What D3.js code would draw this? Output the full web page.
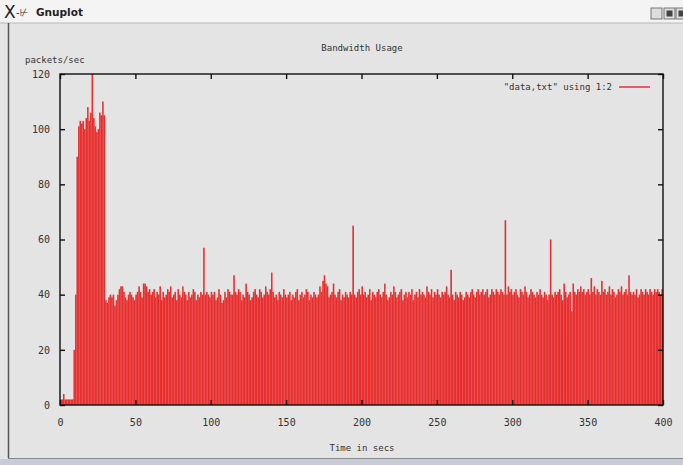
<!DOCTYPE html>
<html><head><meta charset="utf-8">
<script src="https://cdn.jsdelivr.net/npm/d3@7"></script>
<style>html,body{margin:0;padding:0;background:#e4e4e4;}svg{display:block;}</style>
</head><body>
<svg id="c" width="683" height="465"></svg>
<script>
const chartTitle = "Bandwidth Usage";
const yLabel = "packets/sec";
const xLabel = "Time in secs";
const legendLabel = "\"data,txt\" using 1:2";
const xTicks = [0,50,100,150,200,250,300,350,400];
const yTicks = [0,20,40,60,80,100,120];
// packets/sec for t = 0..400 seconds
const packets = [
2,2,4,2,2,2,2,2,2,20,
40,90,101,103,102,103,100,104,108,103,
106,120,104,101,99,100,106,105,110,105,
38,37,39,40,39,40,36,38,40,42,
43,43,41,39,38,40,41,40,39,38,
40,41,43,41,39,44,44,43,41,42,
40,41,42,39,41,40,43,38,41,39,
40,42,41,43,39,40,41,38,42,40,
39,43,41,40,38,41,39,40,42,41,
38,40,39,41,40,57,40,41,40,39,
41,40,41,38,39,42,40,37,38,41,
39,42,41,40,40,47,41,40,42,41,
38,40,39,44,41,40,38,39,41,42,
40,39,42,41,39,40,43,41,40,42,
48,41,39,40,38,41,40,39,42,40,
39,40,41,38,40,39,41,42,38,40,
41,39,40,42,41,38,40,39,41,40,
39,40,43,41,45,47,44,43,39,40,
41,44,40,39,41,42,38,40,39,41,
40,39,41,40,65,40,39,41,42,40,
43,40,41,39,40,42,38,41,40,39,
41,42,40,39,41,44,40,38,39,41,
40,43,41,39,40,41,42,38,40,41,
39,41,40,42,38,40,41,39,42,40,
41,40,39,43,41,40,42,39,41,40,
42,40,39,41,40,41,43,40,39,49,
40,38,41,40,39,41,40,38,39,41,
40,39,41,42,40,39,41,42,40,41,
42,40,41,42,39,40,42,41,40,42,
41,40,42,41,40,67,40,43,41,42,
40,41,42,40,39,42,41,40,43,41,
39,40,42,41,40,39,41,40,42,40,
39,41,40,38,40,60,40,39,41,40,
41,42,40,38,44,41,39,40,41,34,
44,41,40,42,41,43,41,42,40,41,
42,40,46,41,43,40,42,41,40,45,
41,42,40,41,43,40,42,41,39,40,
42,41,43,40,41,42,40,47,41,40,
41,40,42,39,40,42,41,40,42,41,
40,42,41,40,42,41,42,41,40,42,
40
];
const seconds = packets.map((_, i) => i);

const svg = d3.select("#c");
const font = "'DejaVu Sans Mono', 'Liberation Mono', monospace";

// window chrome
svg.append("rect").attr("x",0).attr("y",0).attr("width",683).attr("height",465).attr("fill","#e4e4e4");
svg.append("rect").attr("x",0).attr("y",0).attr("width",683).attr("height",23).attr("fill","#f4f4f4");
svg.append("line").attr("x1",0).attr("x2",683).attr("y1",23).attr("y2",23).attr("stroke","#b8b8b8");
svg.append("line").attr("x1",8.5).attr("x2",8.5).attr("y1",23).attr("y2",458).attr("stroke","#555").attr("stroke-width",1.5);
svg.append("line").attr("x1",8).attr("x2",683).attr("y1",458.5).attr("y2",458.5).attr("stroke","#888");
svg.append("rect").attr("x",0).attr("y",459).attr("width",683).attr("height",6).attr("fill","#c8ccd4");
svg.append("text").attr("x",4).attr("y",18).attr("font-family","'DejaVu Sans', sans-serif").attr("font-size",17).attr("fill","#222").text("X");
svg.append("text").attr("x",16).attr("y",16).attr("font-family","'DejaVu Sans', sans-serif").attr("font-size",10).attr("fill","#333").text("-⊬");
svg.append("text").attr("x",36).attr("y",16).attr("font-family","'DejaVu Sans', sans-serif").attr("font-size",10.5).attr("font-weight","bold").attr("fill","#222").text("Gnuplot");
[651,664,676].forEach((bx,i)=>{
  svg.append("rect").attr("x",bx).attr("y",8).attr("width",11).attr("height",11).attr("fill","#ddd").attr("stroke","#777");
  svg.append("rect").attr("x",bx+3).attr("y",11).attr("width",5).attr("height",5).attr("fill",i===0?"none":"#444").attr("stroke","#444").attr("stroke-width",i===0?0:1);
});

const m = {left:60, right:663, top:74, bottom:405};
const x = d3.scaleLinear().domain([0,400]).range([m.left,m.right]);
const y = d3.scaleLinear().domain([0,120]).range([m.bottom,m.top]);
const step = x(1)-x(0);

// bars (impulses)
const g = svg.append("g");
g.selectAll("rect.b").data(seconds).join("rect").attr("class","b")
  .attr("x", d => x(d))
  .attr("y", d => y(packets[d]))
  .attr("width", d => Math.min(step, m.right - x(d)))
  .attr("height", d => y(0) - y(packets[d]))
  .attr("fill", "#f23232");
g.selectAll("line.i").data(seconds).join("line").attr("class","i")
  .attr("x1", d => x(d)+0.3).attr("x2", d => x(d)+0.3)
  .attr("y1", y(0)).attr("y2", d => y(packets[d]))
  .attr("stroke", "#c42020").attr("stroke-width", 0.6).attr("opacity", 0.5);

// border
svg.append("rect").attr("x",m.left).attr("y",m.top).attr("width",m.right-m.left).attr("height",m.bottom-m.top)
  .attr("fill","none").attr("stroke","#111").attr("stroke-width",1.4);

// axes (gnuplot style inner ticks, mirrored)
const axB = svg.append("g").attr("transform",`translate(0,${m.bottom})`)
  .call(d3.axisBottom(x).tickValues(xTicks).tickSize(-5).tickPadding(14).tickFormat(d3.format("d")));
const axT = svg.append("g").attr("transform",`translate(0,${m.top})`)
  .call(d3.axisTop(x).tickValues(xTicks).tickSize(-5).tickFormat(""));
const axL = svg.append("g").attr("transform",`translate(${m.left},0)`)
  .call(d3.axisLeft(y).tickValues(yTicks).tickSize(-5).tickPadding(10).tickFormat(d3.format("d")));
const axR = svg.append("g").attr("transform",`translate(${m.right},0)`)
  .call(d3.axisRight(y).tickValues(yTicks).tickSize(-5).tickFormat(""));
[axB,axT,axL,axR].forEach(a=>{
  a.select(".domain").remove();
  a.selectAll(".tick line").attr("stroke","#111").attr("stroke-width",1.4);
  a.selectAll("text").attr("font-family",font).attr("font-size",10).attr("fill","#333");
});

// texts
svg.append("text").attr("x",362).attr("y",51).attr("text-anchor","middle").attr("font-family",font).attr("font-size",9).attr("fill","#333").text(chartTitle);
svg.append("text").attr("x",25).attr("y",63).attr("font-family",font).attr("font-size",9).attr("fill","#333").text(yLabel);
svg.append("text").attr("x",362).attr("y",451).attr("text-anchor","middle").attr("font-family",font).attr("font-size",9).attr("fill","#333").text(xLabel);
svg.append("text").attr("x",612).attr("y",90).attr("text-anchor","end").attr("font-family",font).attr("font-size",9).attr("fill","#333").text(legendLabel);
svg.append("line").attr("x1",619).attr("x2",650).attr("y1",87).attr("y2",87).attr("stroke","#e83030").attr("stroke-width",1.5);
</script>
</body></html>
